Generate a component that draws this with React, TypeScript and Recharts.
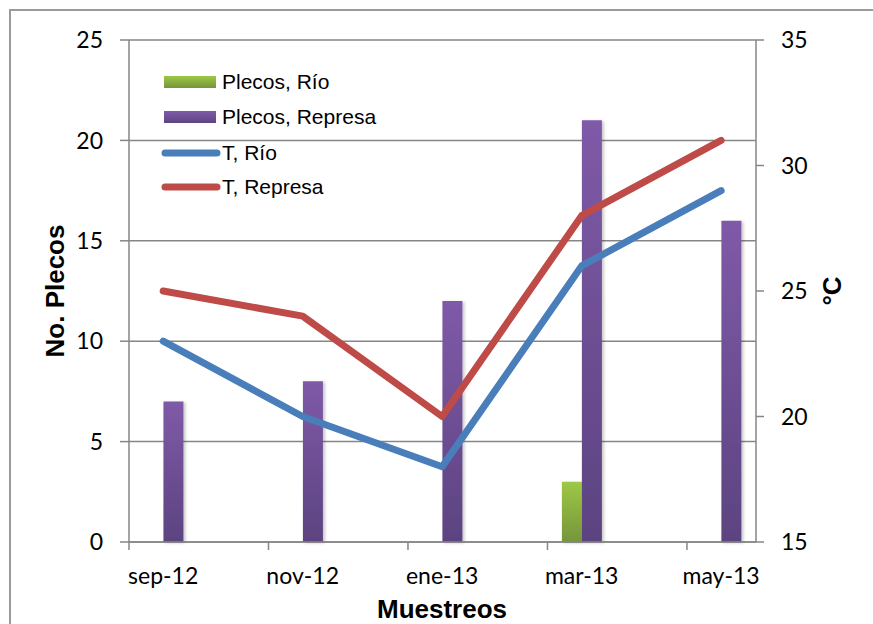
import React from 'react';
import { ComposedChart, Bar, Line, XAxis, YAxis, CartesianGrid, Legend } from 'recharts';

// Sampling dates (every two months)
const categories = ['sep-12', 'nov-12', 'ene-13', 'mar-13', 'may-13'];
// Plecos counted per sampling
const plecosRio = [0, 0, 0, 3, 0];
const plecosRepresa = [7, 8, 12, 21, 16];
// Water temperature (°C)
const tempRio = [23, 20, 18, 26, 29];
const tempRepresa = [25, 24, 20, 28, 31];
// Axis ticks
const leftTicks = [0, 5, 10, 15, 20, 25];
const rightTicks = [15, 20, 25, 30, 35];
const xTicks = [0, 1, 2, 3, 4];

const seriesNames = ['Plecos, Río', 'Plecos, Represa', 'T, Río', 'T, Represa'];

const data = categories.map((label, i) => ({
  idx: i,
  label,
  plecosRio: plecosRio[i],
  plecosRepresa: plecosRepresa[i],
  tempRio: tempRio[i],
  tempRepresa: tempRepresa[i],
}));

// Layout
const W = 873;
const H = 624;
const LEFT_W = 129;
const RIGHT_W = 117;
const TOP = 40;
const X_H = 82;
const X_MIN = -0.245;
const X_MAX = 4.25;
const UNIT_PX = (W - LEFT_W - RIGHT_W) / (X_MAX - X_MIN);
const MARK_SHIFT = -0.245; // tick marks sit between samplings

const AXIS = '#868686';
const BLUE = '#4A7EBB';
const RED = '#BE4B48';
const TICK_FONT = 'Lato, "Open Sans", sans-serif';
const TITLE_FONT = '"Liberation Sans", Arial, sans-serif';
const LEGEND_SIZE = 21;
const TITLE_SIZE = 26;

const XTick = (props: any) => {
  const { x, y, payload } = props;
  const markX = x + MARK_SHIFT * UNIT_PX;
  return (
    <g>
      <line x1={markX} x2={markX} y1={y} y2={y + 8} stroke={AXIS} strokeWidth={1.5} />
      <text x={x} y={y + 42} textAnchor="middle" fontFamily={TICK_FONT} fontSize={23} fill="#000">
        {categories[payload.value]}
      </text>
    </g>
  );
};

const LegendBox = () => (
  <svg width={260} height={140} style={{ display: 'block' }}>
    <defs>
      <linearGradient id="lgGreen" x1="0" y1="0" x2="0" y2="1">
        <stop offset="0%" stopColor="#9DC846" />
        <stop offset="100%" stopColor="#76953B" />
      </linearGradient>
      <linearGradient id="lgPurple" x1="0" y1="0" x2="0" y2="1">
        <stop offset="0%" stopColor="#7F5AA8" />
        <stop offset="100%" stopColor="#5E4482" />
      </linearGradient>
    </defs>
    <rect x={14} y={11} width={52} height={12} fill="url(#lgGreen)" />
    <text x={72} y={24} fontFamily={TITLE_FONT} fontSize={LEGEND_SIZE} fill="#000">{seriesNames[0]}</text>
    <rect x={14} y={46} width={52} height={12} fill="url(#lgPurple)" />
    <text x={72} y={59} fontFamily={TITLE_FONT} fontSize={LEGEND_SIZE} fill="#000">{seriesNames[1]}</text>
    <line x1={15} x2={67} y1={88} y2={88} stroke={BLUE} strokeWidth={7} strokeLinecap="round" />
    <text x={72} y={95} fontFamily={TITLE_FONT} fontSize={LEGEND_SIZE} fill="#000">{seriesNames[2]}</text>
    <line x1={15} x2={67} y1={122} y2={122} stroke={RED} strokeWidth={7} strokeLinecap="round" />
    <text x={72} y={129} fontFamily={TITLE_FONT} fontSize={LEGEND_SIZE} fill="#000">{seriesNames[3]}</text>
  </svg>
);

const LeftTitle = (props: any) => {
  const vb = props.viewBox || { x: 0, y: TOP, width: LEFT_W, height: H - TOP - X_H };
  const cx = vb.x + 55;
  const cy = vb.y + vb.height / 2;
  return (
    <text x={cx} y={cy} transform={`rotate(-90 ${cx} ${cy})`} textAnchor="middle" dominantBaseline="central"
      fontFamily={TITLE_FONT} fontWeight="bold" fontSize={TITLE_SIZE} fill="#000">No. Plecos</text>
  );
};

const RightTitle = (props: any) => {
  const vb = props.viewBox || { x: W - RIGHT_W, y: TOP, width: RIGHT_W, height: H - TOP - X_H };
  const cx = vb.x + 76;
  const cy = vb.y + vb.height / 2;
  return (
    <text x={cx} y={cy} transform={`rotate(-90 ${cx} ${cy})`} textAnchor="middle" dominantBaseline="central"
      fontFamily={TITLE_FONT} fontWeight="bold" fontSize={TITLE_SIZE} fill="#000">°C</text>
  );
};

const BottomTitle = (props: any) => {
  const vb = props.viewBox || { x: LEFT_W, y: H - X_H, width: W - LEFT_W - RIGHT_W, height: X_H };
  const cx = 442;
  return (
    <text x={cx} y={vb.y + 76} textAnchor="middle" fontFamily={TITLE_FONT} fontWeight="bold" fontSize={TITLE_SIZE} fill="#000">
      Muestreos
    </text>
  );
};

export default function App() {
  return (
    <div style={{ position: 'absolute', left: 0, top: 0, width: W, height: H, overflow: 'hidden', background: '#fff' }}>
      <div style={{ position: 'absolute', left: 9, top: 9, width: 1000, height: 1000, border: '2px solid #9a9a9a' }} />
      <div style={{ position: 'absolute', left: 0, top: 0 }}>
        <ComposedChart width={W} height={H} data={data} margin={{ top: TOP, right: 0, bottom: 0, left: 0 }} barGap={0}>
          <defs>
            <linearGradient id="gGreen" x1="0" y1="0" x2="0" y2="1">
              <stop offset="0%" stopColor="#9DC846" />
              <stop offset="100%" stopColor="#76953B" />
            </linearGradient>
            <linearGradient id="gPurple" x1="0" y1="0" x2="0" y2="1">
              <stop offset="0%" stopColor="#7F5AA8" />
              <stop offset="100%" stopColor="#5C4380" />
            </linearGradient>
            <filter id="barShadow" x="-30%" y="-5%" width="160%" height="110%">
              <feDropShadow dx="2" dy="1" stdDeviation="1.5" floodColor="#000" floodOpacity="0.22" />
            </filter>
          </defs>
          <CartesianGrid yAxisId="left" vertical={false} stroke={AXIS} strokeWidth={1.5} horizontalValues={leftTicks} />
          <XAxis
            xAxisId={0}
            dataKey="idx"
            type="number"
            domain={[X_MIN, X_MAX]}
            ticks={xTicks}
            interval={0}
            allowDataOverflow
            height={X_H}
            axisLine={{ stroke: AXIS, strokeWidth: 1.5 }}
            tickLine={false}
            tickSize={0}
            tickMargin={0}
            tick={<XTick />}
            label={<BottomTitle />}
          />
          <YAxis
            yAxisId="left"
            orientation="left"
            width={LEFT_W}
            domain={[0, 25]}
            ticks={leftTicks}
            interval={0}
            axisLine={{ stroke: AXIS, strokeWidth: 1.5 }}
            tickLine={{ stroke: AXIS, strokeWidth: 1.5 }}
            tickSize={9}
            tickMargin={17}
            tick={{ fontFamily: TICK_FONT, fontSize: 23, fill: '#000' }}
            label={<LeftTitle />}
          />
          <YAxis
            yAxisId="right"
            orientation="right"
            width={RIGHT_W}
            domain={[15, 35]}
            ticks={rightTicks}
            interval={0}
            axisLine={{ stroke: AXIS, strokeWidth: 1.5 }}
            tickLine={{ stroke: AXIS, strokeWidth: 1.5 }}
            tickSize={8}
            tickMargin={17}
            tick={{ fontFamily: TICK_FONT, fontSize: 23, fill: '#000' }}
            label={<RightTitle />}
          />
          <Bar yAxisId="left" dataKey="plecosRio" name={seriesNames[0]} fill="url(#gGreen)" barSize={20}
            filter="url(#barShadow)" isAnimationActive={false} />
          <Bar yAxisId="left" dataKey="plecosRepresa" name={seriesNames[1]} fill="url(#gPurple)" barSize={20}
            filter="url(#barShadow)" isAnimationActive={false} />
          <Line yAxisId="right" dataKey="tempRio" name={seriesNames[2]} type="linear" stroke={BLUE} strokeWidth={7}
            strokeLinecap="round" strokeLinejoin="round" dot={false} activeDot={false} isAnimationActive={false} />
          <Line yAxisId="right" dataKey="tempRepresa" name={seriesNames[3]} type="linear" stroke={RED} strokeWidth={7}
            strokeLinecap="round" strokeLinejoin="round" dot={false} activeDot={false} isAnimationActive={false} />
          <Legend
            layout="vertical"
            align="center"
            verticalAlign="middle"
            content={<LegendBox />}
            wrapperStyle={{ position: 'absolute', left: 150, top: 65, width: 260, height: 140 }}
          />
        </ComposedChart>
      </div>
    </div>
  );
}
